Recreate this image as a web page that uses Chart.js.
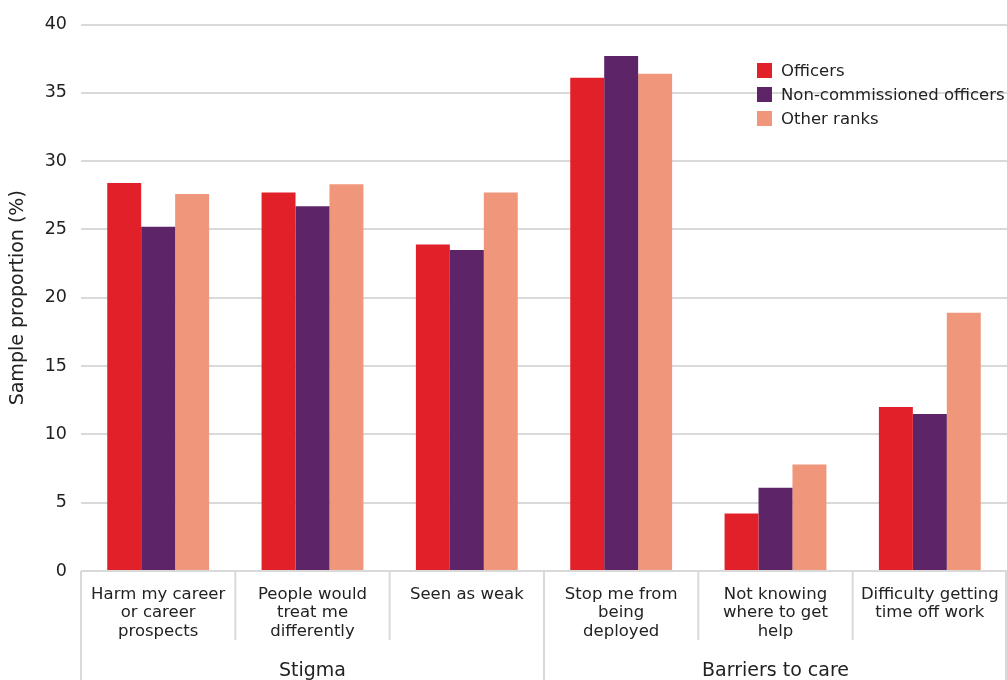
<!DOCTYPE html>
<html><head><meta charset="utf-8">
<script src="https://cdn.jsdelivr.net/npm/chart.js@4/dist/chart.umd.min.js"></script>
<style>html,body{margin:0;padding:0;background:#fff;} #wrap{width:1007px;height:680px;position:relative;}</style>
</head><body><div id="wrap"><canvas id="c"></canvas></div>
<script>
const categories = [
  ["Harm my career", "or career", "prospects"],
  ["People would", "treat me", "differently"],
  ["Seen as weak"],
  ["Stop me from", "being", "deployed"],
  ["Not knowing", "where to get", "help"],
  ["Difficulty getting", "time off work"]
];
const groups = ["Stigma", "Barriers to care"];
const seriesNames = ["Officers", "Non-commissioned officers", "Other ranks"];
const officers   = [28.4, 27.7, 23.9, 36.1, 4.2, 12.0];
const ncos       = [25.2, 26.7, 23.5, 37.7, 6.1, 11.5];
const otherRanks = [27.6, 28.3, 27.7, 36.4, 7.8, 18.9];
const yMin = 0, yMax = 40, yStep = 5;
const colors = ["#E2202A", "#5E2468", "#F0967A"];

const FONT = "'DejaVu Sans', sans-serif";
const TEXT = "#222222";
const GRID = "#D9D9D9";

const separators = {
  id: 'separators',
  afterDraw(chart) {
    const x = chart.scales.x, ctx = chart.ctx;
    const n = x.ticks.length, per = n / groups.length, w = (x.right - x.left) / n;
    ctx.save();
    ctx.strokeStyle = GRID; ctx.lineWidth = 2;
    for (let i = 0; i <= n; i++) {
      let px = x.left + i * w;
      if (i === n) px -= 1;
      const outer = (i % per === 0);
      ctx.beginPath();
      ctx.moveTo(px, x.top);
      ctx.lineTo(px, outer ? chart.height : x.bottom);
      ctx.stroke();
    }
    ctx.restore();
  }
};

const boxLegend = {
  id: 'boxLegend',
  afterDraw(chart) {
    const ctx = chart.ctx, area = chart.chartArea;
    const x0 = area.right - 250, y0 = area.top + 46, step = 24;
    ctx.save();
    ctx.font = "16.5px " + FONT;
    ctx.textBaseline = 'middle';
    chart.data.datasets.forEach((ds, i) => {
      const y = y0 + i * step;
      ctx.fillStyle = ds.backgroundColor;
      ctx.fillRect(x0, y - 7.5, 15, 15);
      ctx.fillStyle = TEXT;
      ctx.fillText(ds.label, x0 + 24, y + 1);
    });
    ctx.restore();
  }
};

function noSidePad(s) { s.paddingLeft = 0; s.paddingRight = 0; }

new Chart(document.getElementById('c'), {
  type: 'bar',
  data: {
    labels: categories,
    datasets: [
      { label: seriesNames[0], data: officers, backgroundColor: colors[0] },
      { label: seriesNames[1], data: ncos, backgroundColor: colors[1] },
      { label: seriesNames[2], data: otherRanks, backgroundColor: colors[2] }
    ]
  },
  options: {
    responsive: true,
    maintainAspectRatio: false,
    animation: false,
    layout: { padding: { top: 13, right: 0, left: 0, bottom: 0 } },
    datasets: { bar: { categoryPercentage: 0.66, barPercentage: 1.0 } },
    plugins: { legend: { display: false }, tooltip: { enabled: false } },
    scales: {
      x: {
        type: 'category',
        position: 'bottom',
        weight: 0,
        offset: true,
        grid: { display: false, drawTicks: false },
        border: { display: false },
        ticks: { color: TEXT, font: { family: FONT, size: 16.5, lineHeight: 1.13 }, padding: 14, maxRotation: 0, autoSkip: false },
        afterFit(s) { s.height = 69; noSidePad(s); }
      },
      x2: {
        type: 'category',
        position: 'bottom',
        weight: 1,
        labels: groups,
        offset: true,
        grid: { display: false, drawTicks: false },
        border: { display: false },
        ticks: { color: TEXT, font: { family: FONT, size: 19 }, padding: 20, maxRotation: 0, autoSkip: false },
        afterFit(s) { s.height = 40; noSidePad(s); }
      },
      y: {
        min: yMin, max: yMax,
        ticks: { stepSize: yStep, color: TEXT, font: { family: FONT, size: 17.5 }, padding: 14 },
        grid: { color: GRID, lineWidth: 2, drawTicks: false },
        border: { display: false },
        title: { display: true, text: 'Sample proportion (%)', color: TEXT, font: { family: FONT, size: 19 }, padding: { top: 7, bottom: 0 } },
        afterFit(s) { s.width = 81; }
      }
    }
  },
  plugins: [separators, boxLegend]
});
</script>
</body></html>
